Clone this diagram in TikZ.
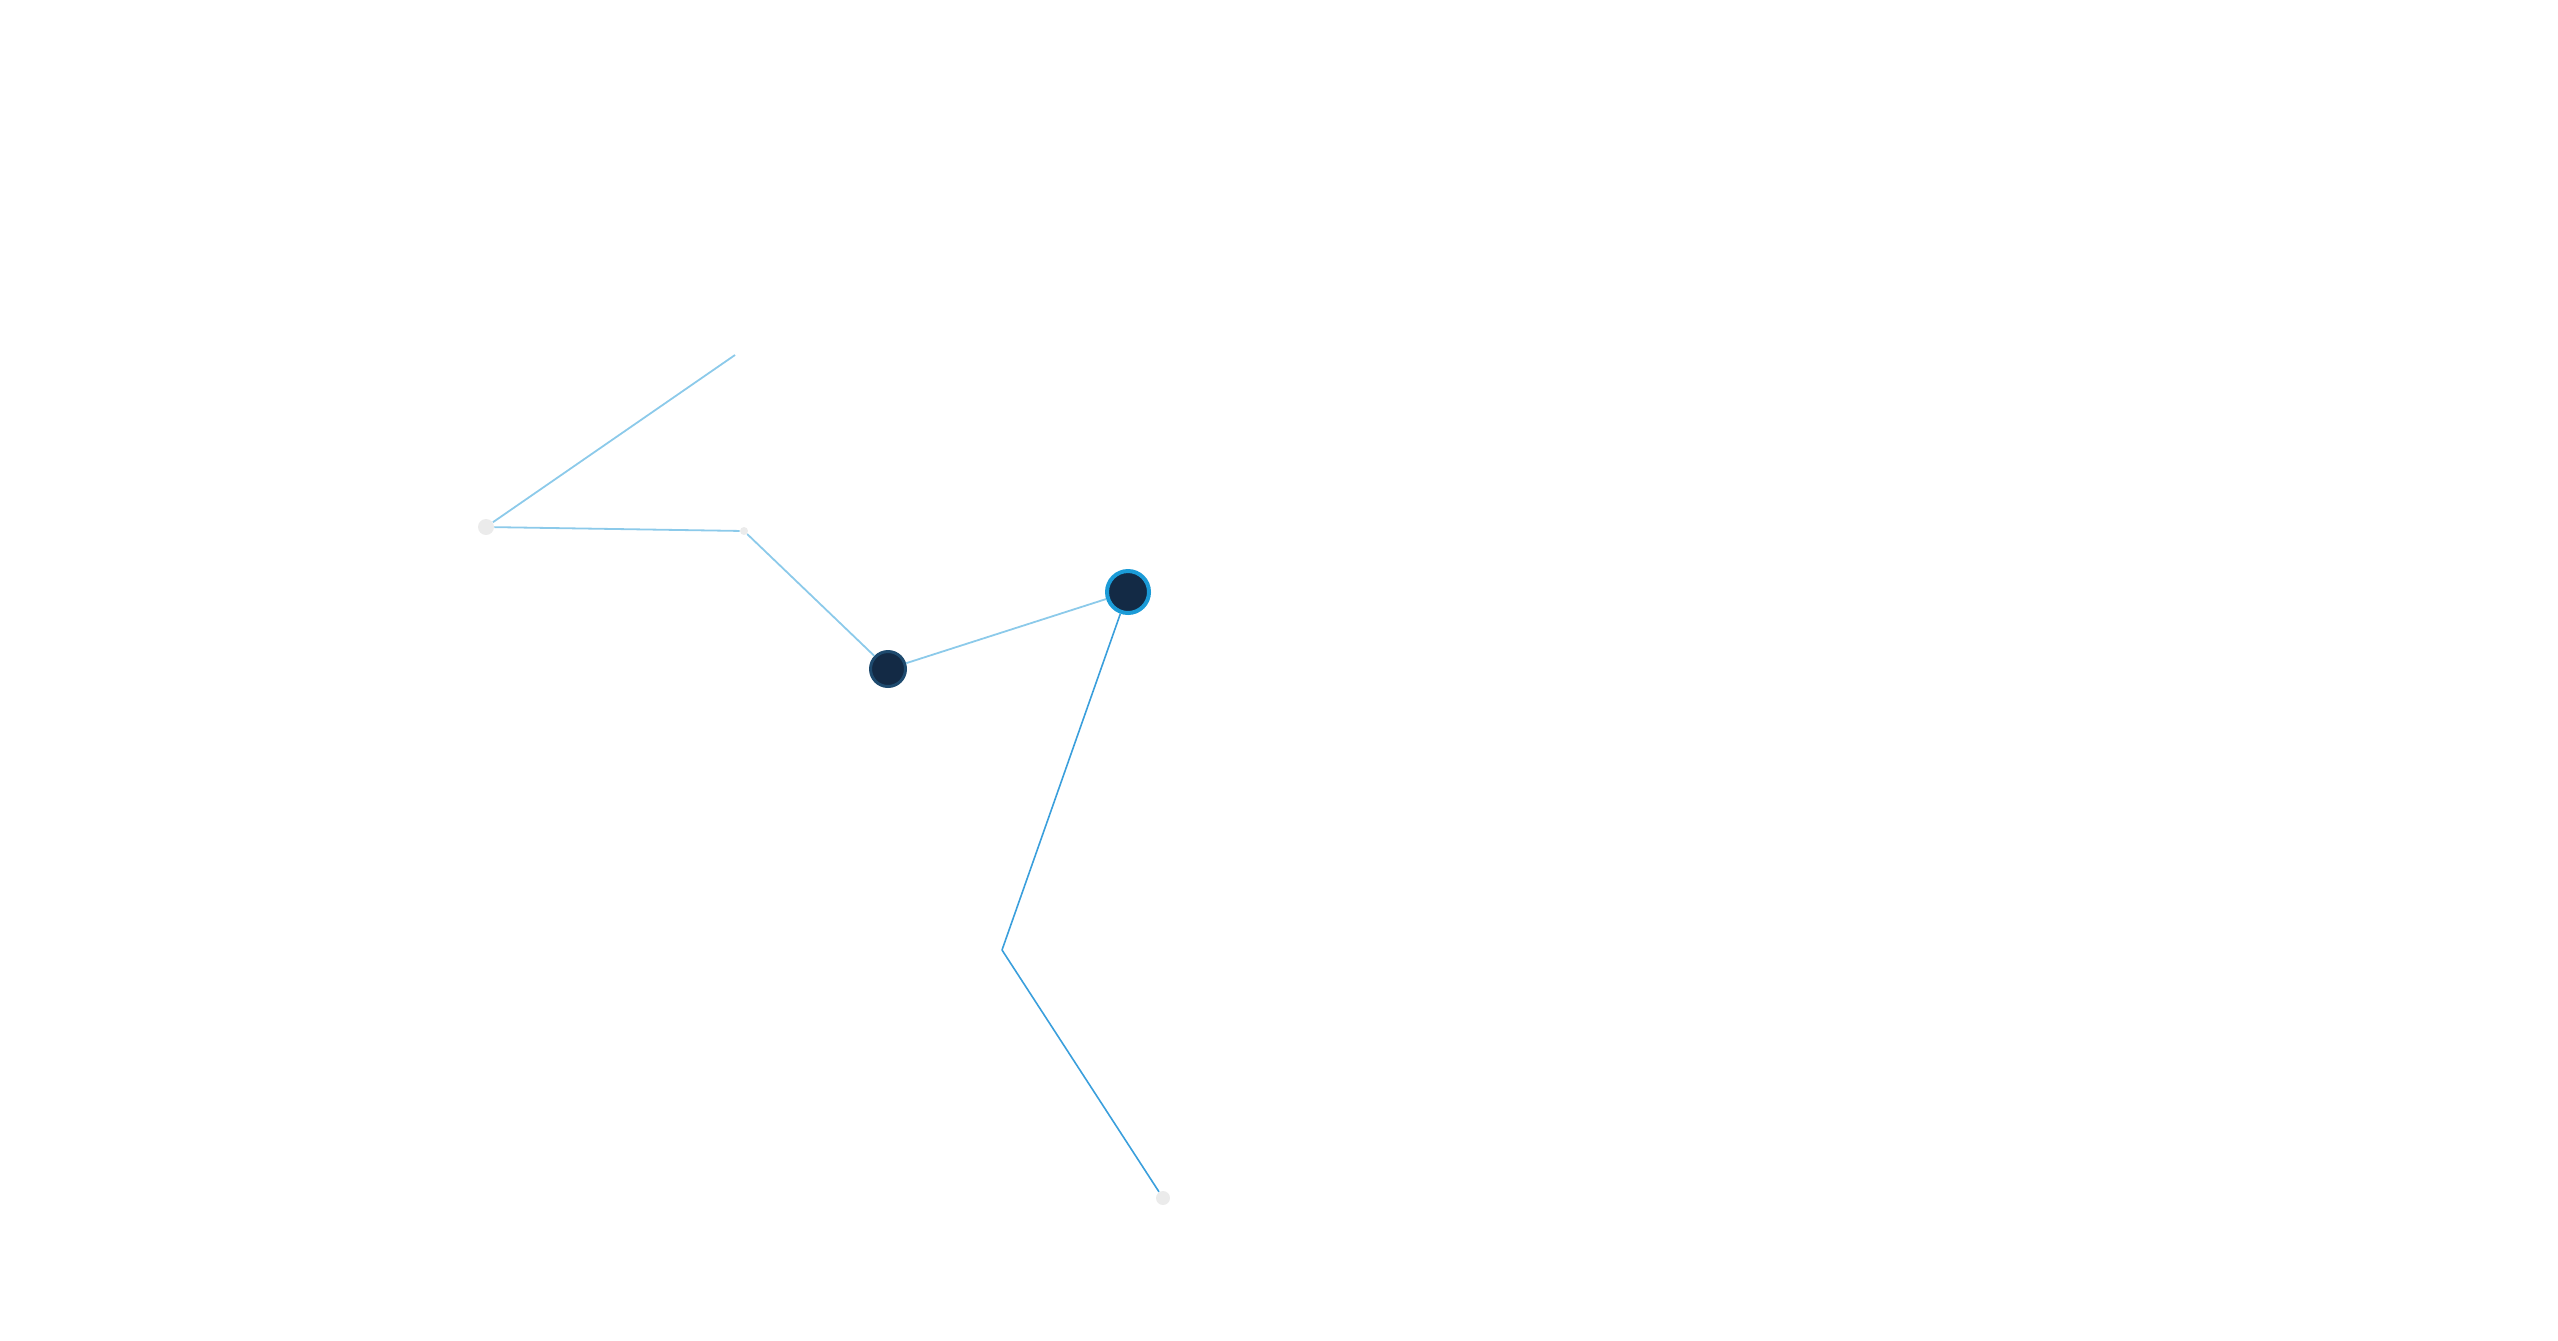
\documentclass[tikz,border=0pt]{standalone}
\definecolor{linklight}{HTML}{8CCAEA}
\definecolor{linkblue}{HTML}{3A9FDC}
\definecolor{navy}{HTML}{132A45}
\definecolor{navyedge}{HTML}{1E4A6E}
\definecolor{ringblue}{HTML}{1B9BD7}
\definecolor{ghost}{HTML}{EBEBEB}
\tikzset{
  px/.style={x=0.5pt,y=-0.5pt},
  ghostdot/.style={circle,fill=ghost,inner sep=0pt},
  darknode/.style={circle,fill=navy,draw=navyedge,line width=1.5pt,inner sep=0pt,minimum size=17.5pt},
  hubnode/.style={circle,fill=navy,draw=ringblue,line width=2pt,inner sep=0pt,minimum size=21pt},
  lightlink/.style={draw=linklight,line width=0.9pt},
  bluelink/.style={draw=linkblue,line width=0.8pt,line join=round},
}
\begin{document}
\begin{tikzpicture}[px]
\useasboundingbox (0,0) rectangle (2558,1340);
\coordinate (a) at (735,355);
\node[ghostdot,minimum size=8pt] (b) at (486,527) {};
\node[ghostdot,minimum size=4pt] (c) at (744,531) {};
\node[darknode] (d) at (888,669) {};
\node[hubnode] (e) at (1128,592) {};
\coordinate (f) at (1002,950);
\node[ghostdot,minimum size=7pt] (g) at (1163,1198) {};
\draw[lightlink] (a) -- (b);
\draw[lightlink] (b) -- (c);
\draw[lightlink] (c) -- (d);
\draw[lightlink] (d) -- (e);
\draw[bluelink] (e) -- (f) -- (g);
\end{tikzpicture}
\end{document}
